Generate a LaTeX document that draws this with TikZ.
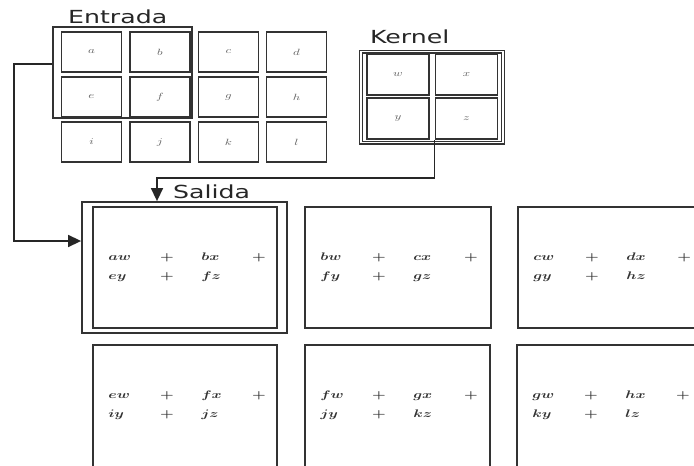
\documentclass[tikz,border=0pt]{standalone}
\usepackage{fontspec}
\newfontfamily\lblfont{DejaVu Sans}
\usetikzlibrary{arrows.meta}
\newcommand{\hsx}[1]{\scalebox{1.4}[1]{#1}}
\begin{document}
\begin{tikzpicture}[x=1pt,y=-1pt,
  ln/.style={draw=black!80, line width=1.8pt},
  cell/.style={ln, minimum width=60pt, minimum height=40pt, inner sep=0pt, font=\fontsize{9}{11}\selectfont, text=black!60},
  kcell/.style={cell, minimum width=62pt, minimum height=41pt},
  obox/.style={ln, minimum width=184pt, minimum height=121pt, inner sep=0pt},
  title/.style={font=\lblfont\fontsize{18}{20}\selectfont, text=black!85, inner sep=0pt, anchor=base west},
  otxt/.style={font=\fontsize{10.5}{12}\selectfont\boldmath, text=black!80, inner sep=0pt, anchor=base west},
  oplus/.style={otxt, anchor=base},
  conn/.style={draw=black!85, line width=1.5pt},
  arr/.style={conn, -{Triangle[length=13pt,width=12pt]}}
]
\useasboundingbox (0,0) rectangle (694,466);
\clip (0,0) rectangle (694,466);
\fill[white] (0,0) rectangle (694,466);

% titles
\node[title] (tin) at (68,23) {\hsx{Entrada}};
\node[title] (tk) at (370,43) {\hsx{Kernel}};
\node[title] (tout) at (173,198) {\hsx{Salida}};

% input grid
\node[cell] (a) at (91.5,52) {\hsx{$a$}};
\node[cell] (b) at (160,52) {\hsx{$b$}};
\node[cell] (c) at (228.5,52) {\hsx{$c$}};
\node[cell] (d) at (296.5,52) {\hsx{$d$}};
\node[cell] (e) at (91.5,97) {\hsx{$e$}};
\node[cell] (f) at (160,97) {\hsx{$f$}};
\node[cell] (g) at (228.5,97) {\hsx{$g$}};
\node[cell] (h) at (296.5,97) {\hsx{$h$}};
\node[cell] (i) at (91.5,142) {\hsx{$i$}};
\node[cell] (j) at (160,142) {\hsx{$j$}};
\node[cell] (k) at (228.5,142) {\hsx{$k$}};
\node[cell] (l) at (296.5,142) {\hsx{$l$}};
\node[ln, minimum width=139pt, minimum height=91pt, inner sep=0pt] (hl) at (122.5,72.5) {};

% kernel
\node[draw=black!80, line width=1.3pt, double, double distance=1.4pt, minimum width=142pt, minimum height=91pt, inner sep=0pt] (kf) at (432,97) {};
\node[kcell] (w) at (398,74.5) {\hsx{$w$}};
\node[kcell] (x) at (466.5,74.5) {\hsx{$x$}};
\node[kcell] (y) at (398,118.5) {\hsx{$y$}};
\node[kcell] (z) at (466.5,118.5) {\hsx{$z$}};

% output
\node[ln, minimum width=205pt, minimum height=131pt, inner sep=0pt] (sal) at (184.5,267.5) {};
\node[obox] (b1) at (185,267.5) {};
\node[obox, minimum width=186pt] (b2) at (398,267.5) {};
\node[obox, minimum width=186pt] (b3) at (611,267.5) {};
\node[obox, minimum height=124pt] (b4) at (185,407) {};
\node[obox, minimum width=185pt, minimum height=124pt] (b5) at (397.5,407) {};
\node[obox, minimum width=186pt, minimum height=124pt] (b6) at (610,407) {};

\foreach \bx/\p/\q/\r/\s in {b1/aw/bx/ey/fz, b2/bw/cx/fy/gz, b3/cw/dx/gy/hz, b4/ew/fx/iy/jz, b5/fw/gx/jy/kz, b6/gw/hx/ky/lz} {
  \node[otxt, xshift=16pt, yshift=-54pt] (\bx-p) at (\bx.north west) {\hsx{$\p$}};
  \node[oplus, xshift=75pt, yshift=-54pt] (\bx-pa) at (\bx.north west) {\hsx{$+$}};
  \node[otxt, xshift=109pt, yshift=-54pt] (\bx-q) at (\bx.north west) {\hsx{$\q$}};
  \node[oplus, xshift=167pt, yshift=-54pt] (\bx-pb) at (\bx.north west) {\hsx{$+$}};
  \node[otxt, xshift=16pt, yshift=-73pt] (\bx-r) at (\bx.north west) {\hsx{$\r$}};
  \node[oplus, xshift=75pt, yshift=-73pt] (\bx-pc) at (\bx.north west) {\hsx{$+$}};
  \node[otxt, xshift=109pt, yshift=-73pt] (\bx-s) at (\bx.north west) {\hsx{$\s$}};
}

% connectors
\draw[arr] ([yshift=8.5pt]hl.west) -- ++(-38,0) |- ([yshift=26.5pt]sal.west);
\draw[arr] (z.south west) -- ++(0,38) -| ([xshift=-27.5pt]sal.north);
\end{tikzpicture}
\end{document}
